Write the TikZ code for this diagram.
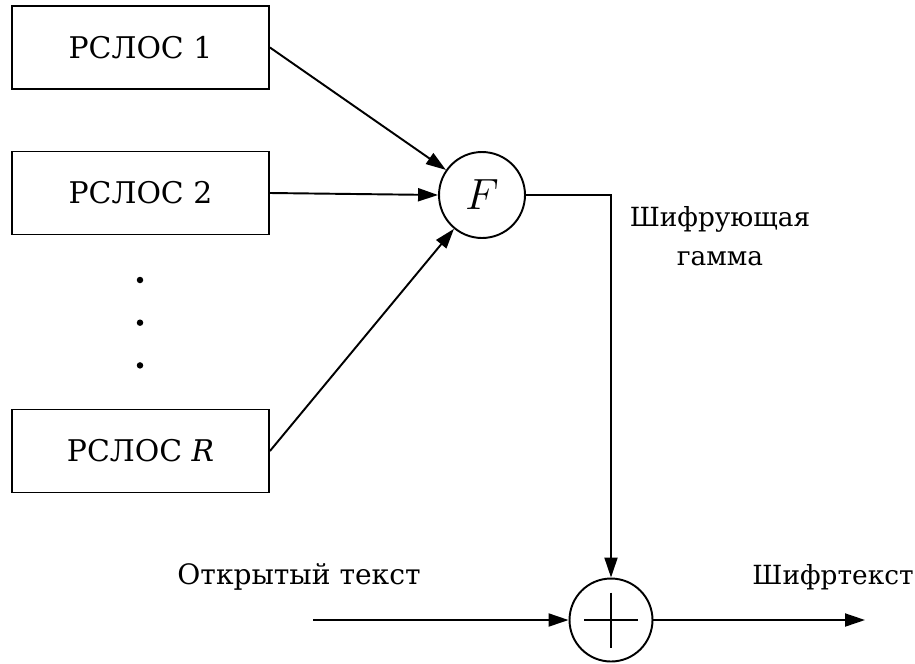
\documentclass[tikz,border=0pt]{standalone}
\usepackage{fontspec}
\setmainfont{DejaVu Serif}
\usetikzlibrary{%
  arrows.meta,% wg. Triangle
  positioning%
}

\begin{document}
\begin{tikzpicture}[x=0.02cm,y=-0.02cm,
	lfsr/.style={
	rectangle,
	minimum width=5.14cm,
	minimum height=1.66cm,
	line width=1.1pt,
	draw=black,
	font=\fontsize{17}{20}\selectfont
	},comb/.style={
	circle,minimum size=1.72cm,inner sep=0pt,
	line width=1.1pt,draw=black,
	font=\fontsize{24.88}{28}\selectfont
	},adder/.style={
	comb,minimum size=1.66cm,
	path picture={
	\draw[line width=1.3pt] ([yshift=-0.28cm]path picture bounding box.north) -- ([yshift=0.28cm]path picture bounding box.south)
	([xshift=0.29cm]path picture bounding box.west) -- ([xshift=-0.29cm]path picture bounding box.east);}
	},dot/.style={
	circle,inner sep=0pt,minimum size=0.13cm,fill=black
	},lbl/.style={
	align=center,font=\fontsize{15}{22.5}\selectfont
	},wire/.style={
	line width=1.1pt,-{Triangle[length=0.4cm,width=0.26cm]}
	}
]
\useasboundingbox (0,0) rectangle (915,663);

% registers
\node (reg1) [lfsr] at (140.5,47.5) {РСЛОС 1};
\node (reg2) [lfsr] at (140.5,193) {РСЛОС 2};
\node (regR) [lfsr] at (140.5,451) {РСЛОС \textit{R}};
\node (dotA) [dot] at (140,280) {};
\node (dotB) [dot, below=0.71cm of dotA] {};
\node (dotC) [dot, below=0.71cm of dotB] {};

% combining function and adder
\node (func) [comb] at (482,195) {$F$};
\node (xor) [adder] at (611,620) {};

\node (gamma) [lbl] at (720,236) {Шифрующая\\гамма};
\node (plain) [lbl, font=\fontsize{16}{20}\selectfont] at (299,577) {Открытый текст};
\node (cipher) [lbl] at (833,577) {Шифртекст};

\coordinate (inP) at (313,620);
\coordinate (outC) at (865,620);

%(x,y) in pixels
\draw[wire] (reg1.east) -- (func);
\draw[wire] (reg2.east) -- (func.west);
\draw[wire] (regR.east) -- (func);
\draw[wire] (func.east) -| (xor.north);
\draw[wire] (inP) -- (xor.west);
\draw[wire] (xor.east) -- (outC);

\end{tikzpicture}
\end{document}
